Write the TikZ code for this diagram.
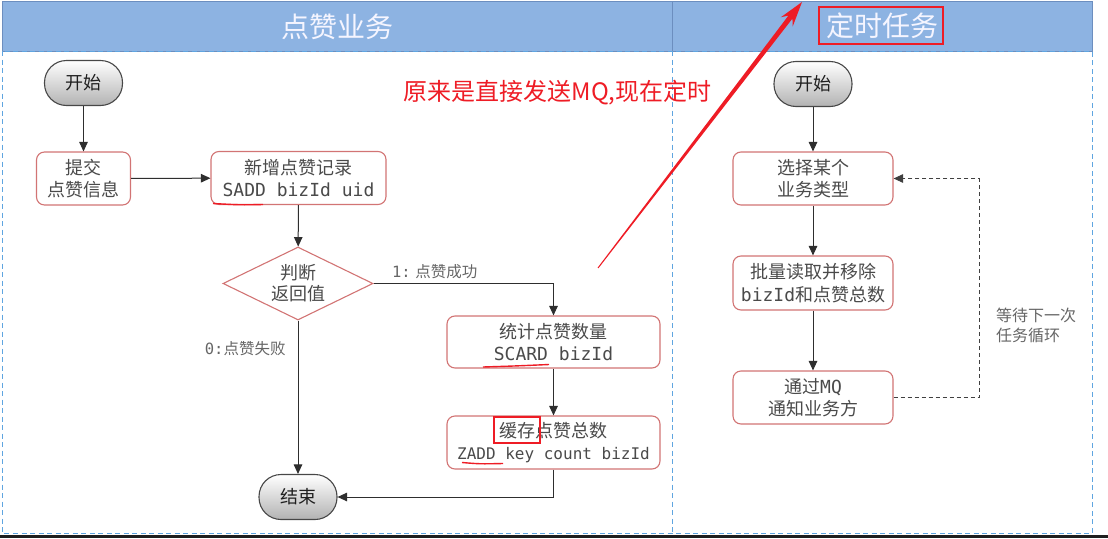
\documentclass[tikz,border=0pt]{standalone}
\usepackage{fontspec}
\setmainfont{Noto Sans CJK SC}
\setmonofont{DejaVu Sans Mono}
\usetikzlibrary{positioning, arrows.meta, calc, shapes.geometric}

\definecolor{hdrblue}{HTML}{8DB3E2}
\definecolor{hdrline}{HTML}{6C8EBF}
\definecolor{laneblue}{HTML}{5FA5E0}
\definecolor{boxred}{HTML}{D27474}
\definecolor{txtgray}{HTML}{4A4A4A}
\definecolor{markred}{HTML}{EE1C25}

\begin{document}
\begin{tikzpicture}[
    x=1pt, y=-1pt,
    >={Triangle[length=9.5pt, width=8.5pt]},
    proc box/.style={draw=boxred, line width=1.1pt, fill=white, rounded corners=8pt,
                     align=center, inner sep=0pt, text=txtgray,
                     font=\fontsize{18}{22.5}\selectfont},
    term/.style={draw=black!72, line width=1.1pt, top color=white, bottom color=black!30,
                 rounded corners=22pt, minimum width=78pt, minimum height=45pt,
                 inner sep=0pt, text=black!88, font=\fontsize{18}{22}\selectfont},
    judge/.style={diamond, aspect=2, draw=boxred, line width=1.1pt, fill=white,
                  minimum width=150pt, minimum height=73pt, inner sep=0pt,
                  align=center, text=txtgray, font=\fontsize{18}{21}\selectfont},
    flow/.style={draw=black!82, line width=1pt, ->},
    loopback/.style={draw=black!75, line width=1pt, dash pattern=on 4pt off 3pt, ->},
    lbl/.style={text=black!60, inner sep=1pt, font=\fontsize{15.5}{19}\selectfont},
    lane/.style={draw=laneblue, line width=0.9pt, dash pattern=on 5pt off 3.5pt},
    title/.style={text=white!96!blue, font=\fontsize{28}{30}\selectfont},
    redmark/.style={draw=markred, line width=1.6pt},
]

\useasboundingbox (0,0) rectangle (1108,538);

% =====================================================================
%  Swimlanes: header band + dashed frames
% =====================================================================
\fill[hdrblue] (2,1) rectangle (1092,51);
\draw[hdrline, line width=1pt] (2,1) rectangle (1092,51);
\draw[hdrline, line width=1pt] (672,1) -- (672,51);

\node[title] (ttlL) at (337,27) {点赞业务};
\node[title] (ttlR) at (882,26) {定时任务};

\draw[lane] (2,51) rectangle (1092,533);
\draw[lane] (672,51) -- (672,533);

% screenshot edge
\fill[black!88] (0,535) rectangle (1108,538);

% =====================================================================
%  LEFT LANE -- 点赞业务
% =====================================================================
\node[term] (startL) at (83.5,83) {开始};
\node[proc box, minimum width=94pt, minimum height=53pt] (submit) at (83.5,178.5)
    {提交\\点赞信息};
\node[proc box, minimum width=175pt, minimum height=53pt] (addrec) at (298.5,178)
    {新增点赞记录\\\texttt{SADD bizId uid}};
\node[judge] (check) at (298,283.5) {判断\\返回值};
\node[proc box, minimum width=213pt, minimum height=52pt] (count) at (553.5,342)
    {统计点赞数量\\\texttt{SCARD bizId}};
\node[proc box, minimum width=213pt, minimum height=53pt] (cache) at (553.5,442.5)
    {缓存点赞总数\\{\fontsize{16}{20}\selectfont\texttt{ZADD key count bizId}}};
\node[term] (endL) at (298,497) {结束};

\draw[flow] (startL) -- (submit);
\draw[flow] (submit) -- (addrec);
\draw[flow] (addrec) -- (check);
\draw[flow] (check.east) -| node[lbl, pos=0.17, above=3pt] (okLbl) {\texttt{1:} 点赞成功} (count.north);
\draw[flow] (check.south) -- node[lbl, pos=0.18, left=11pt] (failLbl) {\texttt{0:}点赞失败} (endL.north);
\draw[flow] (count) -- (cache);
\draw[flow] (cache.south) |- (endL.east);

% =====================================================================
%  RIGHT LANE -- 定时任务
% =====================================================================
\node[term] (startR) at (813,84) {开始};
\node[proc box, minimum width=160pt, minimum height=53pt] (pick) at (813,178.5)
    {选择某个\\业务类型};
\node[proc box, minimum width=160pt, minimum height=54pt] (batch) at (813,283)
    {批量读取并移除\\\texttt{bizId}和点赞总数};
\node[proc box, minimum width=160pt, minimum height=53pt] (notify) at (813,397.5)
    {通过\texttt{MQ}\\通知业务方};

\draw[flow] (startR) -- (pick);
\draw[flow] (pick) -- (batch);
\draw[flow] (batch) -- (notify);

\coordinate (loopR) at (979,178.5);
\draw[loopback] (notify.east) -| (loopR) -- (pick.east);
\node[lbl, anchor=west, align=left, font=\fontsize{16}{19.5}\selectfont] (waitLbl)
    at (995,325.5) {等待下一次\\任务循环};

% =====================================================================
%  Red annotations
% =====================================================================
\node[text=markred, inner sep=0pt, font=\fontsize{24}{26}\selectfont] (note)
    at (557.5,93) {原来是直接发送MQ,现在定时};

\coordinate (atail) at (598,268);
\coordinate (atip) at (802,2);
\coordinate (awing) at ($(atip)!25pt!(atail)$);
\coordinate (aneck) at ($(atip)!19pt!(atail)$);
\fill[markred] ($(atail)!0.5pt!90:(atip)$) -- ($(aneck)!2.5pt!90:(atip)$)
    -- ($(awing)!7.5pt!90:(atip)$) -- (atip) -- ($(awing)!7.5pt!-90:(atip)$)
    -- ($(aneck)!2.5pt!-90:(atip)$) -- ($(atail)!0.5pt!-90:(atip)$) -- cycle;

\draw[redmark, line width=2pt] (819,7) rectangle (943,44);
\draw[redmark] (494,417) rectangle (540,443);

% underlines
\draw[redmark, line width=1.4pt] (213,203.5) .. controls (240,205) .. (263,204.5);
\draw[redmark, line width=1.4pt] (483,367) .. controls (515,366) .. (549,364.5);
\draw[redmark, line width=1.4pt] (462,462.5) .. controls (480,464) .. (503,463.5);

\end{tikzpicture}
\end{document}
